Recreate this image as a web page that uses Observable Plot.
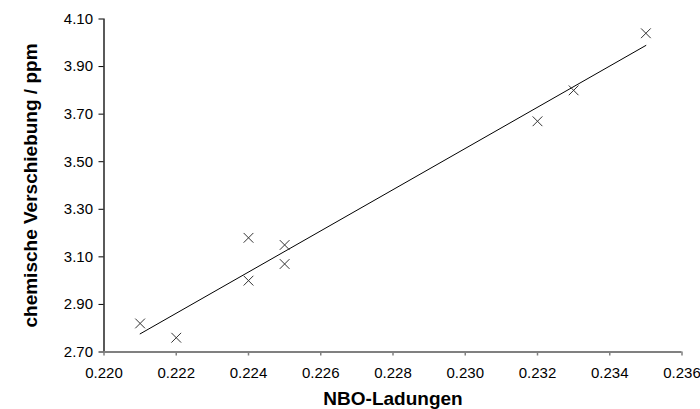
<!DOCTYPE html>
<html><head><meta charset="utf-8">
<script src="https://cdn.jsdelivr.net/npm/d3@7"></script>
<script src="https://cdn.jsdelivr.net/npm/@observablehq/plot@0.6"></script>
<style>body{margin:0;background:#fff}</style>
</head><body><div id="chart"></div>
<script>
const nboCharges = [0.221, 0.222, 0.224, 0.224, 0.225, 0.225, 0.232, 0.233, 0.235];
const shifts = [2.82, 2.76, 3.18, 3.00, 3.15, 3.07, 3.67, 3.80, 4.04];
const xTicks = [0.220, 0.222, 0.224, 0.226, 0.228, 0.230, 0.232, 0.234, 0.236];
const yTicks = [2.70, 2.90, 3.10, 3.30, 3.50, 3.70, 3.90, 4.10];
const xTitle = "NBO-Ladungen";
const yTitle = "chemische Verschiebung / ppm";

const data = nboCharges.map((x, i) => ({x, y: shifts[i]}));

const chart = Plot.plot({
  width: 700, height: 409,
  marginLeft: 103.5, marginRight: 18.5, marginTop: 18.5, marginBottom: 57.5,
  style: {fontFamily: "'Liberation Sans', Arial, sans-serif", fontSize: "15px", background: "#fff", color: "#000"},
  x: {domain: [0.220, 0.236]},
  y: {domain: [2.70, 4.10]},
  marks: [
    Plot.axisX({ticks: xTicks, tickFormat: d => d.toFixed(3), tickSize: 4, tickPadding: 11, stroke: "#808080", strokeWidth: 1.5, label: null, fontSize: 15}),
    Plot.axisY({ticks: yTicks, tickFormat: d => d.toFixed(2), tickSize: 5, tickPadding: 6, stroke: "#000", label: null, fontSize: 15}),
    Plot.ruleX([0.220], {stroke: "#000", strokeWidth: 1.3}),
    Plot.ruleY([2.70], {stroke: "#808080", strokeWidth: 2}),
    Plot.linearRegressionY(data, {x: "x", y: "y", ci: 0, stroke: "#000", strokeWidth: 1}),
    Plot.dot(data, {x: "x", y: "y", symbol: "times", r: 4.5, stroke: "#333", strokeWidth: 1}),
    Plot.text([xTitle], {text: d => d, frameAnchor: "bottom", textAnchor: "middle", dy: 53, fontSize: 19, fontWeight: "bold"}),
    Plot.text([yTitle], {text: d => d, frameAnchor: "left", textAnchor: "middle", dx: -73, rotate: -90, fontSize: 19, fontWeight: "bold"})
  ]
});
document.getElementById("chart").append(chart);
</script>
</body></html>
